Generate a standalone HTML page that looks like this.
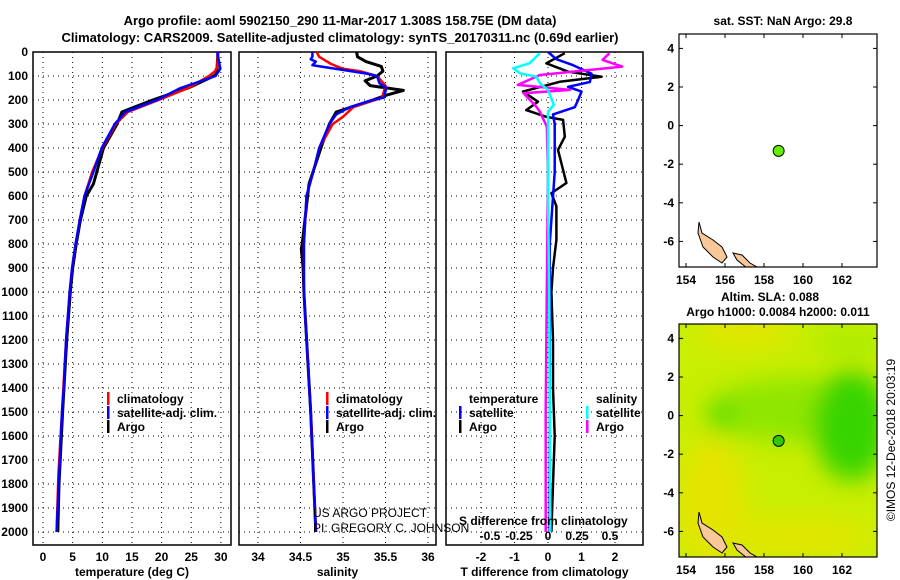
<!DOCTYPE html>
<html><head><meta charset="utf-8"><style>
html,body{margin:0;padding:0;background:#fff}
svg{display:block;font-family:"Liberation Sans",sans-serif}
.b{font-weight:bold;font-size:13px}
.t{font-size:12px;font-weight:bold}
</style></head><body>
<svg id="c" width="900" height="580" viewBox="0 0 900 580" xmlns="http://www.w3.org/2000/svg">
<defs>
<filter id="blur" x="-50%" y="-50%" width="200%" height="200%"><feGaussianBlur stdDeviation="12"/></filter>
<clipPath id="clipTop"><rect x="679" y="34" width="198" height="233"/></clipPath>
<clipPath id="clipBot"><rect x="679" y="324" width="198" height="233"/></clipPath>
</defs>
<text class="b" x="340" y="25" text-anchor="middle">Argo profile: aoml 5902150_290 11-Mar-2017 1.308S 158.75E (DM data)</text>
<text class="b" x="340" y="42" text-anchor="middle">Climatology: CARS2009. Satellite-adjusted climatology: synTS_20170311.nc (0.69d earlier)</text>
<g id="panels"></g>
<g id="maps"></g>
</svg>
<script>
// ---- data ----
const depthTicks=[0,100,200,300,400,500,600,700,800,900,1000,1100,1200,1300,1400,1500,1600,1700,1800,1900,2000];
const tempTicks=[0,5,10,15,20,25,30];
const salTicks=[34,34.5,35,35.5,36];
const tdiffTicks=[-2,-1,0,1,2];
const sdiffTicks=[-0.5,-0.25,0,0.25,0.5];
const tClimDepth=[0,60,80,100,150,200,250,300,400,500,600,700,800,900,1000,1200,1500,1760,2000];
const tClim=[29.5,29.4,29.0,28.0,24.5,19.5,14.3,12.3,10.0,8.3,7.0,6.2,5.5,4.9,4.5,3.9,3.2,2.6,2.3];
const tSatDepth=[0,70,100,150,200,250,300,400,500,600,700,800,900,1000,1200,1400,1500,2000];
const tSat=[29.4,29.9,29.1,23.2,19.2,13.9,12.1,9.9,8.5,7.0,6.2,5.5,4.9,4.5,3.9,3.5,3.2,2.3];
const tArgoDepth=[0,50,90,100,150,170,200,250,300,400,550,600,700,800,900,1000,1200,1500,1800,2000];
const tArgo=[29.5,29.4,29.3,28.8,24.5,22.0,18.5,13.3,12.5,10.2,8.5,7.3,6.3,5.6,5.0,4.6,4.0,3.3,2.7,2.5];
const sClimDepth=[0,20,50,70,80,100,140,190,230,270,300,400,500,600,800,1000,1500,2000];
const sClim=[34.69,34.72,34.86,35.0,35.2,35.4,35.5,35.46,35.12,35.0,34.88,34.72,34.65,34.57,34.54,34.54,34.62,34.68];
const sSatDepth=[0,20,30,40,55,60,90,100,130,150,190,200,230,260,300,400,500,600,800,1000,1500,2000];
const sSat=[34.64,34.64,34.62,34.68,34.64,34.73,35.28,35.4,35.43,35.51,35.48,35.35,35.08,34.92,34.84,34.72,34.65,34.57,34.54,34.54,34.62,34.68];
const sArgoDepth=[0,20,40,60,80,100,120,140,160,180,200,250,300,400,550,800,820,900,1000,1500,2000];
const sArgo=[35.16,35.17,35.27,35.45,35.47,35.4,35.26,35.32,35.71,35.51,35.35,34.92,34.84,34.74,34.6,34.52,34.51,34.53,34.54,34.62,34.68];
const dtSatDepth=[0,30,55,90,125,145,165,200,230,260,300,500,700,800,1000,2000];
const dtSat=[0,0.25,0.75,1.3,1.25,0.6,1.0,0.9,0.8,0.15,0.2,0.2,0.1,0.05,0.05,0.05];
const dtArgoDepth=[5,47,82,103,124,165,207,242,270,283,353,408,546,588,643,783,900,1000,1200,1400,1600,1800,2000];
const dtArgo=[0.5,-0.05,0.6,1.6,0.35,-0.75,-0.3,-0.65,-0.05,0.45,0.5,0.3,0.55,0.1,0.25,0.25,0.15,0.1,0.15,0.15,0.2,0.15,0.1];
const dsArgoDepth=[5,33,61,96,137,158,172,228,249,311,500,1000,1500,2000];
const dsArgo=[0.53,0.47,0.64,-0.07,-0.26,0.19,-0.21,-0.1,-0.07,-0.01,0,-0.01,-0.02,-0.02];
const dsSatDepth=[5,47,68,89,103,130,158,220,249,600,1000,2000];
const dsSat=[-0.07,-0.16,-0.3,-0.24,-0.1,-0.07,0,0.05,0,0,0.01,0.02];
const argoLon=[158.75], argoLat=[-1.308];
const lonTicks=[154,156,158,160,162], latTicks=[4,2,0,-2,-4,-6];

// ---- helpers ----
const NS="http://www.w3.org/2000/svg";
function mk(tag,attrs,parent){const e=document.createElementNS(NS,tag);for(const k in attrs)e.setAttribute(k,attrs[k]);parent.appendChild(e);return e;}
const yD=d=>52+d*0.24;
const P=document.getElementById('panels');
const panels=[
 {x0:33,x1:231,sx:v=>43+v*5.93,ticks:tempTicks,lab:'temperature (deg C)',name:'temperature-panel'},
 {x0:239,x1:436,sx:v=>258+(v-34)*85,ticks:salTicks,lab:'salinity',name:'salinity-panel'},
 {x0:446,x1:643,sx:v=>548+v*33.5,ticks:tdiffTicks,lab:'T difference from climatology',name:'difference-panel'}
];
const sxS=v=>548+v*116;
panels.forEach((p,i)=>{
 const g=mk('g',{},P);
 
 
 depthTicks.forEach(d=>{
  const l=mk('line',{x1:p.x0,x2:p.x1,y1:yD(d),y2:yD(d),stroke:'#000','stroke-width':1,'stroke-dasharray':'1,4'},g);
  
  
 });
 p.ticks.forEach(v=>{
  const x=p.sx(v);
  const l=mk('line',{x1:x,x2:x,y1:52,y2:545,stroke:'#000','stroke-width':1,'stroke-dasharray':'1,4'},g);
  
  
  const t=mk('text',{x:x,y:561,'text-anchor':'middle',class:'t'},g);t.textContent=String(v);
  
  
 });
 const r=mk('rect',{x:p.x0,y:52,width:p.x1-p.x0,height:493,fill:'none',stroke:'#000','stroke-width':1.5},g);
 
 
 const xt=mk('text',{x:(p.x0+p.x1)/2,y:576,'text-anchor':'middle',class:'t'},g);xt.textContent=p.lab;
 
 
});
depthTicks.forEach(d=>{
 const t=mk('text',{x:28,y:yD(d)+4,'text-anchor':'end',class:'t'},P);t.textContent=String(d);
 
 
});
function line(ds,vs,sx,color,name,w){
 const pts=ds.map((d,i)=>sx(vs[i]).toFixed(1)+','+yD(d).toFixed(1)).join(' ');
 const e=mk('polyline',{points:pts,fill:'none',stroke:color,'stroke-width':w||2.5,'stroke-linejoin':'round'},P);
 
 
}
const sxT=panels[0].sx, sxSal=panels[1].sx, sxDT=panels[2].sx;
line(tArgoDepth,tArgo,sxT,'#000','temp-argo-line',3);
line(tClimDepth,tClim,sxT,'#f00','temp-climatology-line');
line(tSatDepth,tSat,sxT,'#00f','temp-satellite-line');
line(sArgoDepth,sArgo,sxSal,'#000','sal-argo-line',3);
line(sClimDepth,sClim,sxSal,'#f00','sal-climatology-line');
line(sSatDepth,sSat,sxSal,'#00f','sal-satellite-line');
line(dtArgoDepth,dtArgo,sxDT,'#000','tdiff-argo-line');
line(dtSatDepth,dtSat,sxDT,'#00f','tdiff-satellite-line');
line(dsArgoDepth,dsArgo,sxS,'#f0f','sdiff-argo-line');
line(dsSatDepth,dsSat,sxS,'#0ff','sdiff-satellite-line');
// legends
function leg(x,y,color,txt,name){
 const g=mk('g',{},P);
 
 
 if(color)mk('rect',{x:x-10,y:y-11,width:2.5,height:13,fill:color},g);
 const t=mk('text',{x:x,y:y,class:'t'},g);t.textContent=txt;
}
leg(117,403,'#f00','climatology','legend-climatology');
leg(117,417,'#00f','satellite-adj. clim.','legend-satellite');
leg(117,431,'#000','Argo','legend-argo');
leg(336,403,'#f00','climatology','legend-sal-climatology');
leg(336,417,'#00f','satellite-adj. clim.','legend-sal-satellite');
leg(336,431,'#000','Argo','legend-sal-argo');
leg(469,403,null,'temperature','legend-temperature-heading');
leg(469,417,'#00f','satellite','legend-tdiff-satellite');
leg(469,431,'#000','Argo','legend-tdiff-argo');
leg(596,403,null,'salinity','legend-salinity-heading');
leg(596,417,'#0ff','satellite','legend-sdiff-satellite');
leg(596,431,'#f0f','Argo','legend-sdiff-argo');
let t=mk('text',{x:313,y:517,'font-size':12},P);t.textContent='US ARGO PROJECT';


t=mk('text',{x:313,y:532,'font-size':12},P);t.textContent='PI: GREGORY C. JOHNSON';


t=mk('text',{x:459,y:525,class:'t'},P);t.textContent='S difference from climatology';


sdiffTicks.forEach(v=>{
 const e=mk('text',{x:sxS(v)+(v===0.5?4:0),y:540,'text-anchor':'middle',class:'t'},P);e.textContent=String(v);
 
 
});

// ---- maps ----
const M=document.getElementById('maps');
const mx=lon=>686+(lon-154)*19.5;
function map(off,clip,heat,name){
 const g=mk('g',{},M);
 
 
 const my=lat=>125.6+off-lat*19.3;
 const inner=mk('g',{'clip-path':'url(#'+clip+')'},g);
 if(heat){
  mk('rect',{x:679,y:34+off,width:198,height:233,fill:'#c8ee00'},inner);
  const bl=mk('g',{filter:'url(#blur)'},inner);
  mk('ellipse',{cx:mx(155.3),cy:my(-4.5),rx:35,ry:65,fill:'#e4e400'},bl);
  mk('ellipse',{cx:mx(157),cy:my(4.5),rx:45,ry:22,fill:'#e0e600'},bl);
  mk('ellipse',{cx:mx(159.5),cy:my(-6.3),rx:80,ry:22,fill:'#e0e600'},bl);
  mk('ellipse',{cx:mx(159.5),cy:my(0.3),rx:85,ry:32,fill:'#90e600'},bl);
  mk('ellipse',{cx:mx(162.5),cy:my(-0.5),rx:38,ry:55,fill:'#38d400'},bl);
  mk('ellipse',{cx:mx(155.8),cy:my(0),rx:14,ry:16,fill:'#58dc00'},bl);
  mk('ellipse',{cx:mx(162.5),cy:my(3.8),rx:40,ry:18,fill:'#b0ec00'},bl);
 }
 const isl1=[[699,222],[702,233],[713,240],[722,247],[727,257],[722,263],[713,257],[703,247],[698,233]];
 const isl2=[[733,253],[742,255],[750,263],[757,267],[747,268],[737,260]];
 [isl1,isl2].forEach(pl=>{
  const e=mk('polygon',{points:pl.map(p=>p[0]+','+(p[1]+off)).join(' '),fill:'#f8c898',stroke:'#000','stroke-width':1},inner);
  
  
 });
 mk('rect',{x:679,y:34+off,width:198,height:233,fill:'none',stroke:'#000','stroke-width':1.2},g);
 lonTicks.forEach(v=>{
  mk('line',{x1:mx(v),x2:mx(v),y1:34+off,y2:38+off,stroke:'#000'},g);
  mk('line',{x1:mx(v),x2:mx(v),y1:263+off,y2:267+off,stroke:'#000'},g);
  const e=mk('text',{x:mx(v),y:284+off,'text-anchor':'middle',class:'t'},g);e.textContent=String(v);
  
  
 });
 latTicks.forEach(v=>{
  mk('line',{x1:679,x2:683,y1:my(v),y2:my(v),stroke:'#000'},g);
  mk('line',{x1:873,x2:877,y1:my(v),y2:my(v),stroke:'#000'},g);
  const e=mk('text',{x:674,y:my(v)+4,'text-anchor':'end',class:'t'},g);e.textContent=String(v);
  
  
 });
 argoLon.forEach((lo,i)=>{
  const c=mk('circle',{cx:mx(lo),cy:my(argoLat[i]),r:5.5,fill:heat?'#30c800':'#66ee00',stroke:'#000','stroke-width':1},g);
  
  
 });
}
map(0,'clipTop',false,'sst-map');
map(290,'clipBot',true,'sla-map');
t=mk('text',{x:783,y:25,'text-anchor':'middle',class:'t'},M);t.textContent='sat. SST: NaN Argo: 29.8';


t=mk('text',{x:770,y:301,'text-anchor':'middle',class:'t'},M);t.textContent='Altim. SLA: 0.088';


t=mk('text',{x:778,y:316,'text-anchor':'middle',class:'t'},M);t.textContent='Argo h1000: 0.0084 h2000: 0.011';


t=mk('text',{x:0,y:0,'font-size':12,transform:'translate(895,440) rotate(-90)','text-anchor':'middle'},M);t.textContent='©IMOS 12-Dec-2018 20:03:19';


</script>
</body></html>
